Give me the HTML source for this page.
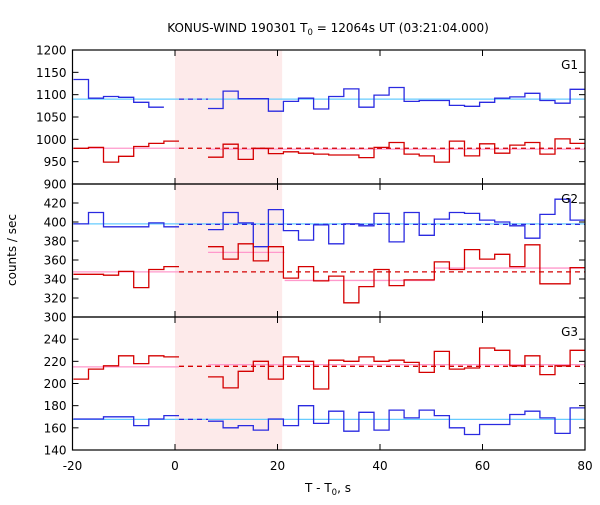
<!DOCTYPE html>
<html><head><meta charset="utf-8"><style>
body{margin:0;background:#fff;}
svg{font-family:"DejaVu Sans","Liberation Sans",sans-serif;}
</style></head><body>
<svg id="chart" width="600" height="500" viewBox="0 0 600 500">
<text x="328" y="32" font-size="12" text-anchor="middle">KONUS-WIND 190301 T<tspan font-size="8.5" dy="3">0</tspan><tspan dy="-3"> = 12064s UT (03:21:04.000)</tspan></text>
<text x="328" y="492" font-size="12" text-anchor="middle">T - T<tspan font-size="8.5" dy="3">0</tspan><tspan dy="-3">, s</tspan></text>
<text transform="translate(16,250) rotate(-90)" font-size="12" text-anchor="middle">counts / sec</text>
</svg>
<script>
const binWidth = 2.944;
const preStart = -19.83;
const postStart = 6.44;
const xTicks = [-20, 0, 20, 40, 60, 80];
const shadeRange = [0, 20.9];
const panelNames = ["G1", "G2", "G3"];
const yRanges = [[900, 1200], [300, 440], [140, 260]];
const yTicks1 = [900, 950, 1000, 1050, 1100, 1150, 1200];
const yTicks2 = [300, 320, 340, 360, 380, 400, 420];
const yTicks3 = [140, 160, 180, 200, 220, 240];
const g1BluePre = [1134, 1092, 1096, 1094, 1083, 1072, null];
const g1BluePost = [1069, 1108, 1091, 1091, 1063, 1085, 1092, 1068, 1096, 1113, 1072, 1099, 1116, 1085, 1087, 1087, 1076, 1074, 1083, 1092, 1095, 1103, 1087, 1081, 1112];
const g1RedPre = [980, 982, 949, 962, 984, 991, 996];
const g1RedPost = [960, 989, 955, 980, 968, 972, 969, 967, 965, 965, 959, 982, 993, 967, 963, 949, 996, 963, 990, 969, 987, 993, 967, 1001, 991];
const g2BluePre = [398, 410, 395, 395, 395, 399, 395];
const g2BluePost = [392, 410, 399, 374, 413, 391, 381, 397, 377, 398, 396, 409, 379, 410, 386, 403, 410, 409, 402, 400, 396, 383, 408, 424, 402];
const g2RedPre = [345, 345, 344, 348, 331, 350, 353];
const g2RedPost = [374, 361, 377, 359, 374, 341, 353, 338, 343, 315, 332, 350, 333, 339, 339, 358, 350, 371, 361, 366, 353, 376, 335, 335, 352];
const g3BluePre = [168, 168, 170, 170, 162, 168, 171];
const g3BluePost = [166, 160, 162, 158, 168, 162, 180, 164, 175, 157, 174, 158, 176, 169, 176, 171, 160, 154, 163, 163, 172, 175, 169, 155, 178];
const g3RedPre = [204, 213, 216, 225, 218, 225, 224];
const g3RedPost = [206, 196, 211, 220, 204, 224, 220, 195, 221, 220, 224, 220, 221, 219, 210, 229, 213, 214, 232, 230, 216, 225, 208, 216, 230];
const g1Fits = {blue: 1090, dashBlue: 1090, dashRed: 980, pink: [[-20, 0.78, 980], [6.44, 80, 978]]};
const g2Fits = {blue: 398, dashBlue: 397.5, dashRed: 347.5, pink: [[-20, 0.78, 347.5], [6.44, 21.4, 368], [21.4, 50.6, 338.5], [50.6, 80, 351.5]]};
const g3Fits = {blue: 167.6, dashBlue: 167.6, dashRed: 215.5, pink: [[-20, 0.78, 215], [6.44, 80, 217]]};

const NS = "http://www.w3.org/2000/svg";
const svg = document.getElementById("chart");
const L = 72.5, R = 585;
const panelTops = [50, 184, 317], panelBots = [184, 317, 450];
const xS = v => L + (v + 20) / 100 * (R - L);
function mk(tag, attrs, parent) {
  const e = document.createElementNS(NS, tag);
  for (const k in attrs) e.setAttribute(k, attrs[k]);
  (parent || svg).appendChild(e);
  return e;
}
const defs = mk("defs", {});
const cp = mk("clipPath", {id: "clip"}, defs);
mk("rect", {x: L, y: 50, width: R - L, height: 400}, cp);

const shade = mk("rect", {x: xS(shadeRange[0]), y: 50, width: xS(shadeRange[1]) - xS(shadeRange[0]), height: 400, fill: "#fdeaea"});



const panelData = [
  [g1BluePre, g1BluePost, g1RedPre, g1RedPost, g1Fits, yTicks1],
  [g2BluePre, g2BluePost, g2RedPre, g2RedPost, g2Fits, yTicks2],
  [g3BluePre, g3BluePost, g3RedPre, g3RedPost, g3Fits, yTicks3]
];

function stepPath(vals, start, yS) {
  let d = "", pen = false;
  vals.forEach((v, i) => {
    const x0 = xS(start + i * binWidth), x1 = xS(start + (i + 1) * binWidth);
    if (v === null) { pen = false; return; }
    const y = yS(v);
    d += (pen ? "L" : "M") + x0.toFixed(1) + "," + y.toFixed(1) + "L" + x1.toFixed(1) + "," + y.toFixed(1);
    pen = true;
  });
  return d;
}

panelData.forEach((pd, p) => {
  const [bPre, bPost, rPre, rPost, fits, ticks] = pd;
  const top = panelTops[p], bot = panelBots[p];
  const [lo, hi] = yRanges[p];
  const yS = v => bot - (v - lo) / (hi - lo) * (bot - top);
  const g = mk("g", {"clip-path": "url(#clip)"});
  
  
  const lb = mk("line", {x1: L, x2: R, y1: yS(fits.blue), y2: yS(fits.blue), stroke: "#66ccff", "stroke-width": 1.3}, g);
  
  
  fits.pink.forEach(s => {
    const pl = mk("line", {x1: xS(s[0]), x2: xS(s[1]), y1: yS(s[2]), y2: yS(s[2]), stroke: "#ff99cc", "stroke-width": 1.3}, g);
    
    
  });
  const series = [[bPre, preStart, "#2a2ae0", "blue-pre"], [bPost, postStart, "#2a2ae0", "blue-post"], [rPre, preStart, "#d40000", "red-pre"], [rPost, postStart, "#d40000", "red-post"]];
  series.forEach(s => {
    const path = mk("path", {d: stepPath(s[0], s[1], yS), fill: "none", stroke: s[2], "stroke-width": 1.3}, g);
    
    
  });
  const db = mk("line", {x1: xS(0.78), x2: xS(postStart), y1: yS(fits.dashBlue), y2: yS(fits.dashBlue), stroke: "#2a2ae0", "stroke-width": 1.3, "stroke-dasharray": "5,4"}, g);
  if (p === 1) db.setAttribute("x2", R);
  
  
  const dr = mk("line", {x1: xS(0.78), x2: R, y1: yS(fits.dashRed), y2: yS(fits.dashRed), stroke: "#d40000", "stroke-width": 1.3, "stroke-dasharray": "5,4"}, g);
  
  
  ticks.forEach(t => {
    const y = yS(t);
    mk("line", {x1: L, x2: L + 6, y1: y, y2: y, stroke: "#000"});
    mk("line", {x1: R - 6, x2: R, y1: y, y2: y, stroke: "#000"});
    const lab = mk("text", {x: L - 6, y: y + 4.5, "font-size": 12, "text-anchor": "end"});
    lab.textContent = t;
    
    
  });
  xTicks.forEach(t => {
    const x = xS(t);
    mk("line", {x1: x, x2: x, y1: top, y2: top + 6, stroke: "#000"});
    mk("line", {x1: x, x2: x, y1: bot - 6, y2: bot, stroke: "#000"});
  });
  const nm = mk("text", {x: R - 7, y: top + 19, "font-size": 12, "text-anchor": "end"});
  nm.textContent = panelNames[p];
  
  
  const fr = mk("rect", {x: L, y: top, width: R - L, height: bot - top, fill: "none", stroke: "#000", "stroke-width": 1.2});
  
  
});
xTicks.forEach(t => {
  const lab = mk("text", {x: xS(t), y: 470, "font-size": 12, "text-anchor": "middle"});
  lab.textContent = t;
  
  
});
</script>
</body></html>
